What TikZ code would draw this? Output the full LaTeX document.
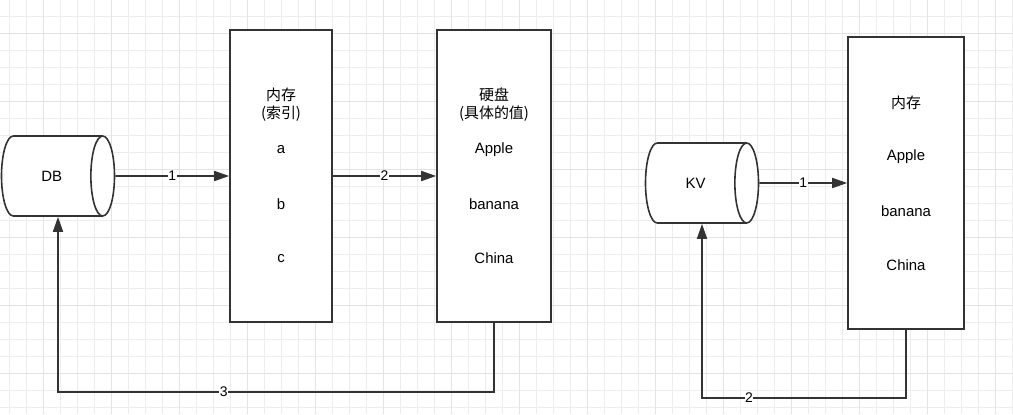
\documentclass[tikz,border=0pt]{standalone}
\usepackage{fontspec}
\setmainfont{Liberation Sans}
\newfontfamily\cjk{Noto Sans CJK SC}
\usetikzlibrary{shapes.geometric, arrows.meta, positioning}

\tikzset{
  line/.style={draw=black!80, line width=1.6bp},
  flow/.style={line, -{Triangle[length=15bp,width=10bp]}},
  box/.style={line, fill=white, minimum height=292bp, inner sep=0pt},
  store/.style={line, fill=white, cylinder, aspect=2.3, minimum width=80bp, minimum height=113bp, inner sep=0pt, anchor=shape center},
  txt/.style={font=\fontsize{15}{18}\selectfont, align=center},
  zh/.style={font=\cjk\fontsize{15}{18}\selectfont, align=center},
  num/.style={fill=white, inner sep=0.5bp, font=\fontsize{14}{14}\selectfont},
}

\begin{document}
\begin{tikzpicture}[x=1bp, y=-1bp]
        \useasboundingbox (0,0) rectangle (1013,414);

        % grid
        \foreach \i in {0,...,59} {
          \draw[black!7, line width=0.8bp] (9+17*\i,0) -- (9+17*\i,414);
        }
        \foreach \j in {0,...,24} {
          \draw[black!7, line width=0.8bp] (0,16+17*\j) -- (1013,16+17*\j);
        }
        \foreach \i in {0,...,14} {
          \draw[black!11, line width=0.8bp] (43+68*\i,0) -- (43+68*\i,414);
        }
        \foreach \j in {0,...,5} {
          \draw[black!11, line width=0.8bp] (0,33+68*\j) -- (1013,33+68*\j);
        }

        % DB, index in memory, values on disk
        \node[store, txt] (db) at (58,176) {DB};
        \node[box, minimum width=102bp] (mem) at (281,176) {};
        \node[box, minimum width=114bp] (disk) at (494,176) {};

        \node[zh] (memhead) at (281,105) {内存\\(索引)};
        \node[txt] (ka) at (281,150) {a};
        \node[txt] (kb) at (281,204) {b};
        \node[txt] (kc) at (281,259) {c};

        \node[zh] (diskhead) at (494,105) {硬盘\\(具体的值)};
        \node[txt] (va) at (494,150) {Apple};
        \node[txt] (vb) at (494,204) {banana};
        \node[txt] (vc) at (494,258) {China};

        \draw[flow] (db) -- node[num] {1} (mem);
        \draw[flow] (mem) -- node[num] {2} (disk);

        \coordinate (back) at (58,392);
        \draw[flow] (disk.south) -- (disk.south |- back) -- node[num, pos=0.62] {3} (back) -- (db.shape center |- db.south);

        % KV, everything in memory
        \node[store, txt] (kv) at (702,183) {KV};
        \node[box, minimum width=116bp] (kvmem) at (906,183) {};

        \node[zh] (kvhead) at (906,103) {内存};
        \node[txt] (wa) at (906,157) {Apple};
        \node[txt] (wb) at (906,211) {banana};
        \node[txt] (wc) at (906,265) {China};

        \draw[flow] (kv) -- node[num] {1} (kvmem);

        \coordinate (kvback) at (702,398);
        \draw[flow] (kvmem.south) -- (kvmem.south |- kvback) -- node[num, pos=0.77] {2} (kvback) -- (kv.shape center |- kv.south);
\end{tikzpicture}
\end{document}
